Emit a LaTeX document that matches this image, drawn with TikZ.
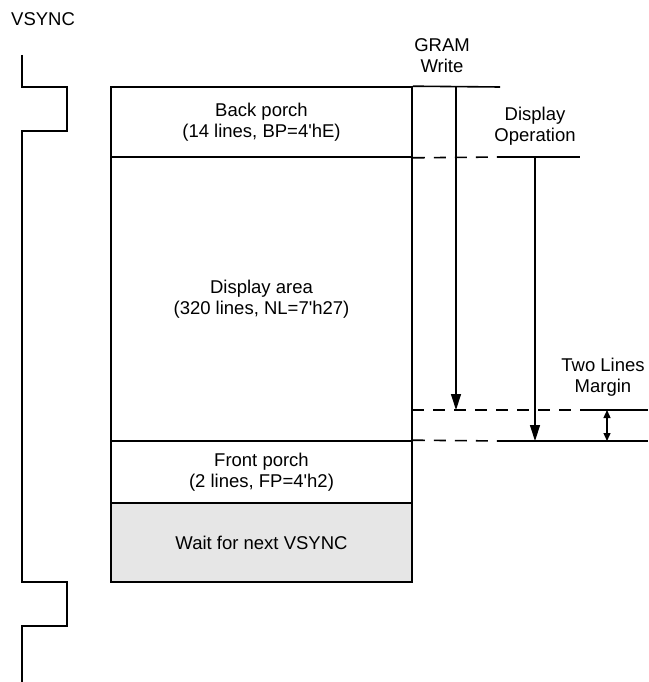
\documentclass[tikz,border=0pt]{standalone}
\usepackage{fontspec}
\setmainfont{Liberation Sans}[Ligatures=TeXOff]
\usetikzlibrary{arrows.meta}
\definecolor{waitgrey}{RGB}{230,230,230}
\newcommand\labfont{\fontsize{18.5}{21}\selectfont}
\begin{document}
\begin{tikzpicture}[x=1pt,y=-1pt,
  solidln/.style={line width=1.6pt},
  dashln/.style={line width=1.6pt, dash pattern=on 12pt off 9pt},
  region/.style={draw, line width=1.6pt, minimum width=301pt, inner sep=0pt, align=center, font=\labfont},
  lab/.style={align=center, inner sep=0pt, font=\labfont},
  arr/.style={line width=1.3pt, -{Triangle[length=16pt,width=10pt]}},
  darr/.style={line width=1.3pt, {Triangle[length=8pt,width=7pt]}-{Triangle[length=8pt,width=7pt]}}
]
\useasboundingbox (0,0) rectangle (648,682);

% VSYNC waveform
\draw[solidln] (22,55) -- (22,87) -- (67,87) -- (67,131) -- (22,131) -- (22,582)
  -- (67,582) -- (67,626) -- (22,626) -- (22,682);
\node[lab, anchor=west] (vs) at (11,19) {VSYNC};

% frame regions
\node[region, minimum height=70pt] (bp) at (261.5,122) {Back porch\\(14 lines, BP=4'hE)};
\node[region, minimum height=284pt] (da) at (261.5,299) {Display area\\(320 lines, NL=7'h27)};
\node[region, minimum height=62pt] (fp) at (261.5,472) {Front porch\\(2 lines, FP=4'h2)};
\node[region, fill=waitgrey, minimum height=79pt] (wt) at (261.5,542.5) {Wait for next VSYNC};

% labels
\node[lab] (gram) at (442,55.5) {GRAM\\Write};
\node[lab] (dop) at (535,126.5) {Display\\Operation};
\node[lab] (tlm) at (603,377) {Two Lines\\Margin};

% coordinates
\coordinate (topend) at (500,87);
\coordinate (bpA) at (500,157);
\coordinate (bpB) at (580,157);
\coordinate (mA) at (412,410);
\coordinate (mB) at (580,410);
\coordinate (mC) at (648,410);
\coordinate (fA) at (500,441);
\coordinate (fB) at (648,441);
\coordinate (gw0) at (456,87);
\coordinate (gw1) at (456,410);
\coordinate (do0) at (535,157);
\coordinate (do1) at (535,441);
\coordinate (mg0) at (607,410);
\coordinate (mg1) at (607,441);

% extension lines
\draw[solidln] (bp.north east) -- (topend);
\draw[dashln] (bp.south east) -- (bpA);
\draw[solidln] (bpA) -- (bpB);
\draw[dashln] (mA) -- (mB);
\draw[solidln] (mB) -- (mC);
\draw[dashln] (fp.north east) -- (fA);
\draw[solidln] (fA) -- (fB);

% arrows
\draw[arr] (gw0) -- (gw1);
\draw[arr] (do0) -- (do1);
\draw[darr] (mg0) -- (mg1);
\end{tikzpicture}
\end{document}
